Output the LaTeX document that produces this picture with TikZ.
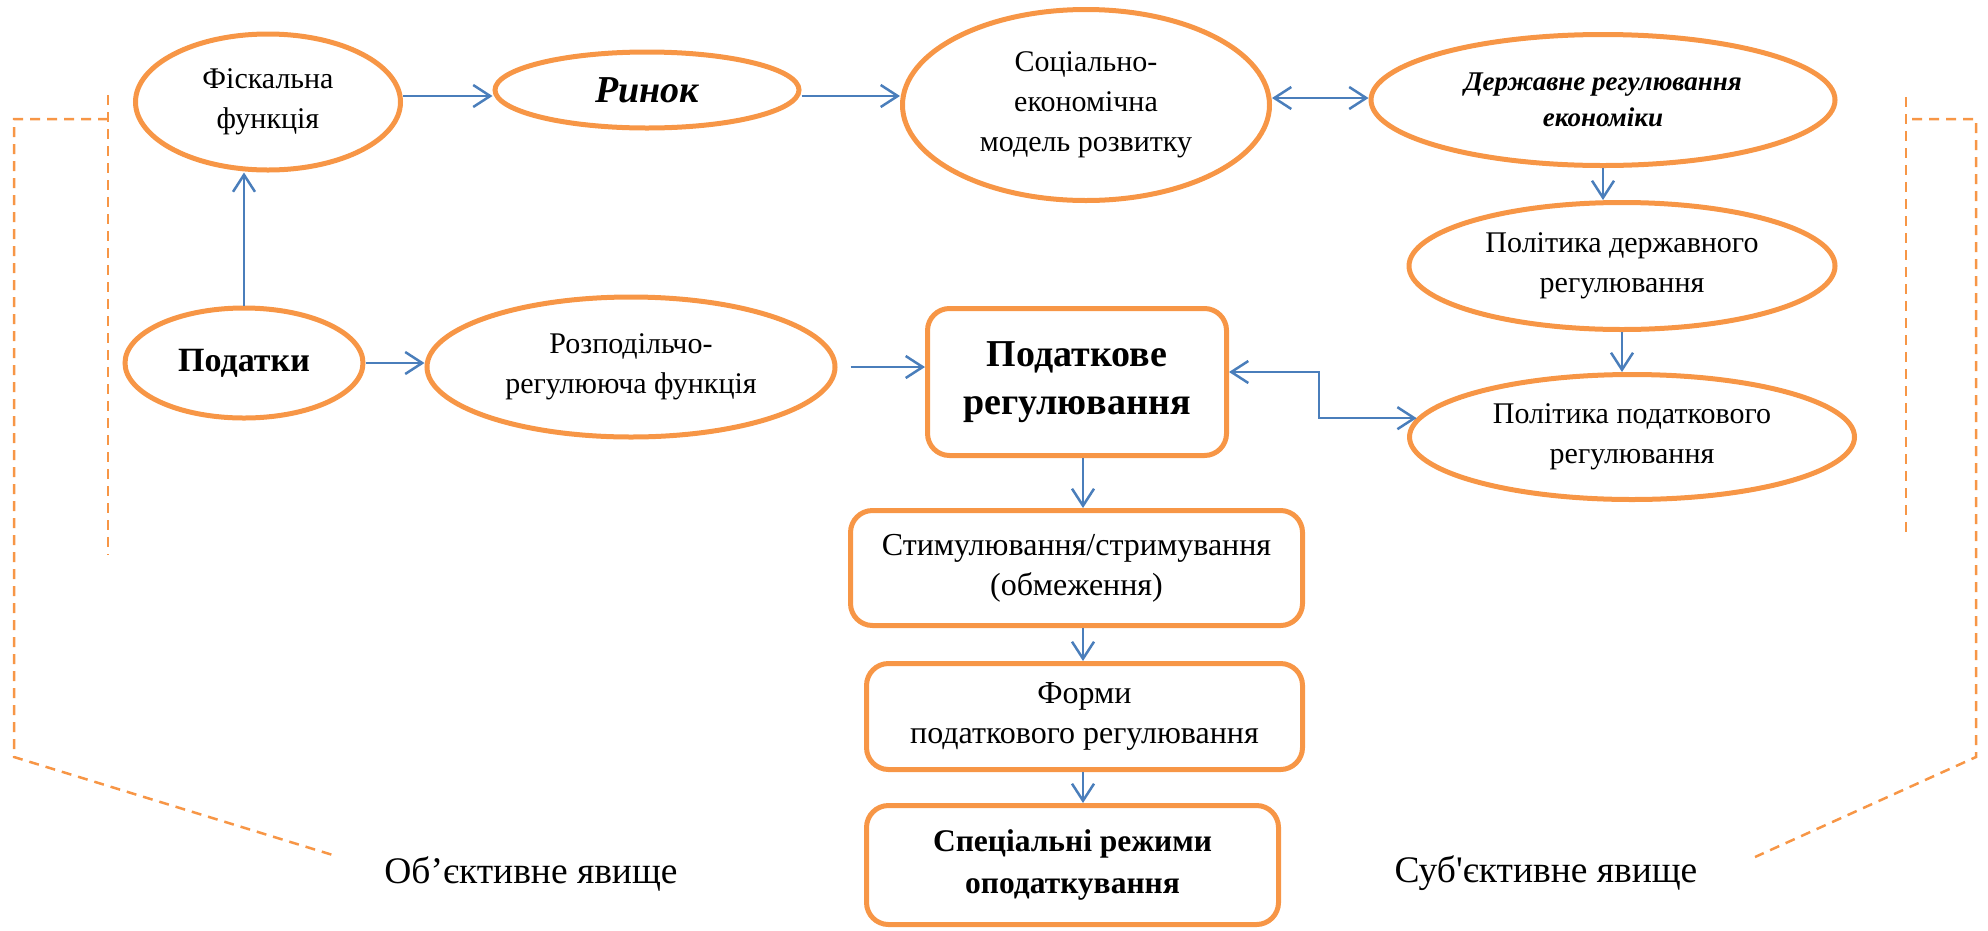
\documentclass[tikz,border=0pt]{standalone}
\usepackage{fontspec}
\setmainfont{Liberation Serif}[Ligatures=TeXOff]
\usetikzlibrary{shapes.geometric,arrows.meta,calc}
\definecolor{orng}{RGB}{247,150,70}
\definecolor{blu}{RGB}{74,126,187}
\tikzset{
  ell/.style={ellipse, draw=orng, line width=5pt, inner sep=0pt, align=center, font=\fontsize{30}{40}\selectfont},
  rbox/.style={rectangle, rounded corners=22pt, draw=orng, line width=5pt, inner sep=0pt, align=center, font=\fontsize{32}{40}\selectfont},
  arr/.style={draw=blu, line width=2.5pt, -{Straight Barb[length=17pt,width=22pt,line width=2.5pt]}},
  darr/.style={draw=blu, line width=2.5pt, {Straight Barb[length=17pt,width=22pt,line width=2.5pt]}-{Straight Barb[length=17pt,width=22pt,line width=2.5pt]}},
  brk/.style={draw=orng, line width=2.5pt, dash pattern=on 10pt off 7pt},
  lbl/.style={inner sep=0pt, font=\fontsize{37.5}{40}\selectfont}
}
\begin{document}
\begin{tikzpicture}[x=1pt,y=-1pt]
\useasboundingbox (0,0) rectangle (1988,930);
% nodes
\node[ell, minimum width=265pt, minimum height=136pt] (fisk) at (268,102) {Фіскальна\\функція};
\node[ell, minimum width=304pt, minimum height=76pt, font=\fontsize{38}{40}\selectfont\bfseries\itshape] (rynok) at (647,90) {Ринок};
\node[ell, minimum width=367pt, minimum height=191pt] (soc) at (1086,105) {Соціально-\\економічна\\модель розвитку};
\node[ell, minimum width=464pt, minimum height=131pt, font=\fontsize{27}{36}\selectfont\bfseries\itshape] (derzh) at (1603,100) {Державне регулювання\\економіки};
\node[ell, minimum width=426pt, minimum height=127pt] (pder) at (1622,266) {Політика державного\\регулювання};
\node[ell, minimum width=445pt, minimum height=125pt] (ppod) at (1632,437) {Політика податкового\\регулювання};
\node[ell, minimum width=238pt, minimum height=110pt, font=\fontsize{34}{36}\selectfont\bfseries] (podatky) at (244,363) {Податки};
\node[ell, minimum width=408pt, minimum height=140pt] (rozp) at (631,367) {Розподільчо-\\регулююча функція};
\node[rbox, minimum width=299pt, minimum height=147pt, font=\fontsize{38}{48}\selectfont\bfseries] (podreg) at (1077,382) {Податкове\\регулювання};
\node[rbox, minimum width=452pt, minimum height=115pt] (stym) at (1076.5,568) {Стимулювання/стримування\\(обмеження)};
\node[rbox, minimum width=436pt, minimum height=106pt] (formy) at (1084.5,716.5) {Форми\\податкового регулювання};
\node[rbox, minimum width=412pt, minimum height=119pt, font=\fontsize{31.5}{42}\selectfont\bfseries] (spec) at (1072.5,865) {Спеціальні режими\\оподаткування};
\node[lbl] (obj) at (531,874) {Об’єктивне явище};
\node[lbl] (subj) at (1546,873) {Суб'єктивне явище};
% connectors
\draw[arr] ([yshift=6pt]fisk.east) -- ([yshift=-6pt]rynok.west);
\draw[arr] ([yshift=-6pt]rynok.east) -- ([yshift=9pt]soc.west);
\draw[darr] ([yshift=7pt]soc.east) -- ([yshift=2pt]derzh.west);
\draw[arr] (derzh.south) -- (derzh.south |- pder.north);
\draw[arr] (pder.south) -- (pder.south |- ppod.north);
\draw[arr] (podatky.north) -- (podatky.north |- fisk.south);
\draw[arr] (podatky.east) -- (podatky.east -| rozp.west);
\draw[arr] ([xshift=13pt]rozp.east) -- (rozp.east -| podreg.west);
\draw[arr] ([xshift=6pt]podreg.south) -- ([xshift=6pt]podreg.south |- stym.north);
\draw[arr] ([xshift=6.5pt]stym.south) -- ([xshift=6.5pt]stym.south |- formy.north);
\draw[arr] ([xshift=-1.5pt]formy.south) -- ([xshift=-1.5pt]formy.south |- spec.north);
\coordinate (elb) at (1319,395);
\draw[darr] ([yshift=10pt]podreg.east) -| (elb) |- (ppod.175);
% brackets
\draw[brk] (108,95) -- (108,555);
\draw[brk] (108,119) -- (14,119) -- (14,757) -- (336,856);
\draw[brk] (1906,97) -- (1906,538);
\draw[brk] (1912,119) -- (1976,119) -- (1976,757) -- (1755,857);
\end{tikzpicture}
\end{document}
